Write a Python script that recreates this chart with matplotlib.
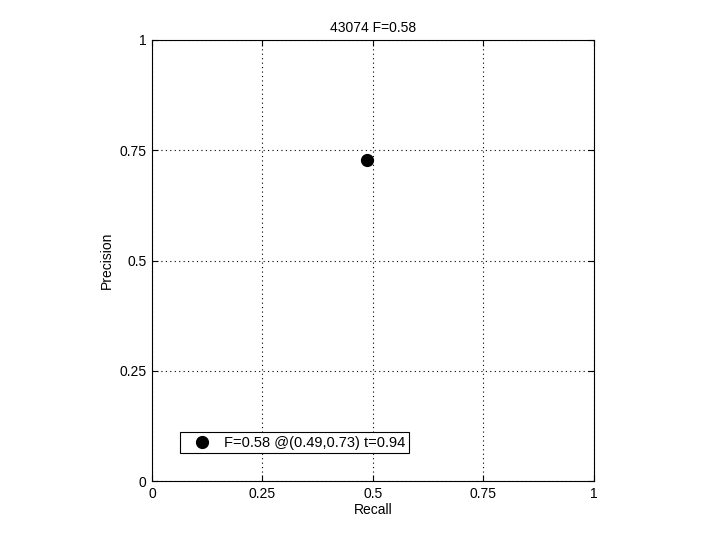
import matplotlib
matplotlib.use('Agg')
import matplotlib.pyplot as plt

plt.rcParams['font.family'] = ['Liberation Sans', 'DejaVu Sans']
plt.rcParams['font.size'] = 10

# best operating point on the precision/recall curve
recall = [0.487]
precision = [0.727]
f_score = 0.58
thresh = 0.94
img_id = '43074'
ticks = [0, 0.25, 0.5, 0.75, 1]
tick_labels = ['0', '0.25', '0.5', '0.75', '1']

fig = plt.figure(figsize=(7.2, 5.4), dpi=100)
ax = fig.add_axes([0.211, 0.109, 0.614, 0.817])

ax.plot(recall, precision, 'o', color='black', ms=8.5,
        label=f'F={f_score:.2f} @({recall[0]:.2f},{precision[0]:.2f}) t={thresh:.2f}')

ax.set_xlim(0, 1); ax.set_ylim(0, 1)
ax.set_xticks(ticks); ax.set_yticks(ticks)
ax.set_xticklabels(tick_labels); ax.set_yticklabels(tick_labels)
ax.grid(True, color='black', ls=(0, (1, 3)), lw=0.8)
ax.tick_params(direction='in', top=True, right=True, length=4, width=0.8, pad=4)
for s in ax.spines.values():
    s.set_linewidth(0.8)
ax.set_xlabel('Recall', labelpad=2)
ax.set_ylabel('Precision', labelpad=4)
ax.set_title(f'{img_id} F={f_score:.2f}', fontsize=10, pad=6)

leg = ax.legend(loc='lower left', bbox_to_anchor=(0.063, 0.063), fancybox=False,
                edgecolor='black', framealpha=1, borderaxespad=0, handletextpad=0.3,
                borderpad=0.25, handlelength=2.5, fontsize=10.5)
leg.get_frame().set_linewidth(0.8)

fig.savefig('out.png', dpi=100)
